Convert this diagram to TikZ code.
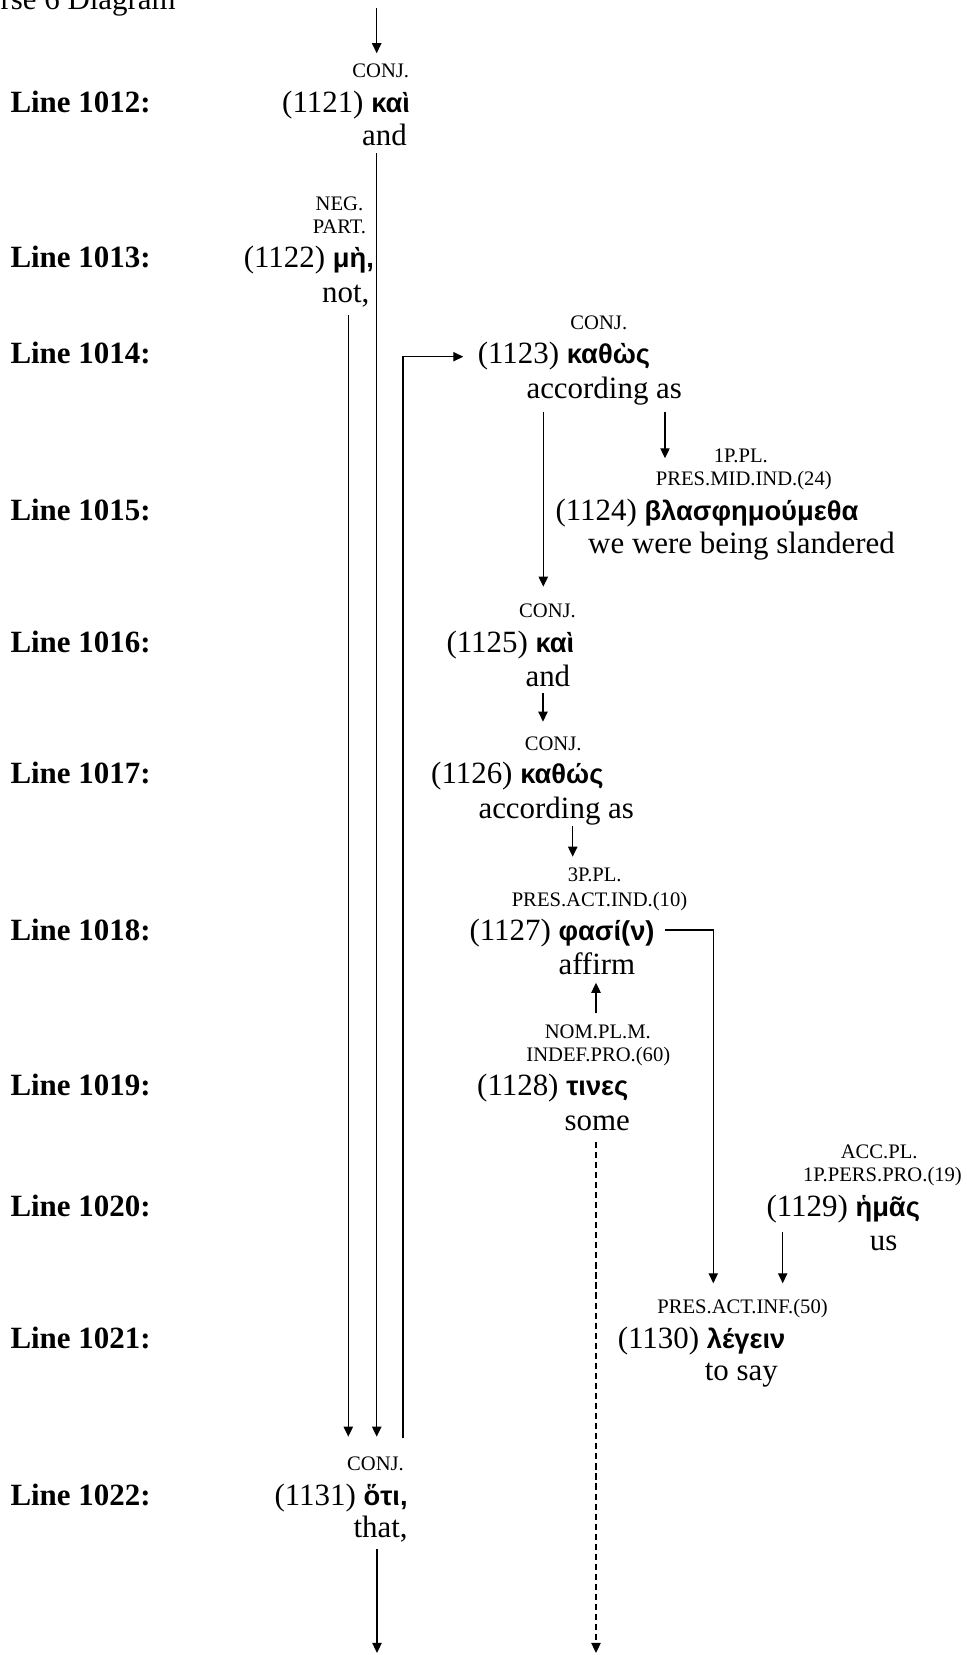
\documentclass[tikz,border=0pt]{standalone}
\usepackage{fontspec}
\setmainfont{Liberation Serif}
\newfontfamily\grkfont{Liberation Sans}
\usepackage{tikz}
\usetikzlibrary{arrows.meta}

\newcommand{\gk}[1]{{\grkfont\bfseries\fontsize{10.6}{12}\selectfont #1}}

\tikzset{
  lbl/.style={anchor=base west, inner sep=0pt, font=\bfseries\fontsize{12}{14}\selectfont},
  wrd/.style={anchor=base west, inner sep=0pt, font=\fontsize{12}{14}\selectfont},
  parse/.style={anchor=base, inner sep=0pt, font=\fontsize{8}{9.6}\selectfont},
  arr/.style={line width=0.55pt, -{Triangle[length=3.9pt,width=3.6pt]}},
  dashline/.style={arr, dash pattern={on 2.4pt off 1.5pt}}
}

\begin{document}
\begin{tikzpicture}[x=0.388pt,y=0.388pt,yscale=-1,xscale=1]
\useasboundingbox (0,0) rectangle (967,1655);
% Text Node
\node[wrd] (title) at (0,10) {rse 6 Diagram};
% Line labels
\node[lbl] (ln1012) at (10,112.5) {Line 1012:};
\node[lbl] (ln1013) at (10,268) {Line 1013:};
\node[lbl] (ln1014) at (10,364) {Line 1014:};
\node[lbl] (ln1015) at (10,520) {Line 1015:};
\node[lbl] (ln1016) at (10,652.7) {Line 1016:};
\node[lbl] (ln1017) at (10,783.3) {Line 1017:};
\node[lbl] (ln1018) at (10,940) {Line 1018:};
\node[lbl] (ln1019) at (10,1095) {Line 1019:};
\node[lbl] (ln1020) at (10,1216.7) {Line 1020:};
\node[lbl] (ln1021) at (10,1348.3) {Line 1021:};
\node[lbl] (ln1022) at (10,1505) {Line 1022:};
% 1121
\node[parse] (pos1121) at (380.8,77.7) {CONJ.};
\node[wrd] (gr1121) at (281.7,112.5) {(1121) \gk{καὶ}};
\node[wrd] (en1121) at (361.7,145.7) {and};
% 1122
\node[parse] (pos1122a) at (339.5,210.7) {NEG.};
\node[parse] (pos1122b) at (339.5,234) {PART.};
\node[wrd] (gr1122) at (243.3,268) {(1122) \gk{μὴ,}};
\node[wrd] (en1122) at (321.7,303) {not,};
% 1123
\node[parse] (pos1123) at (598.8,330) {CONJ.};
\node[wrd] (gr1123) at (477.3,364) {(1123) \gk{καθὼς}};
\node[wrd] (en1123) at (526,398.3) {according as};
% 1124
\node[parse] (pos1124a) at (740.8,462.3) {1P.PL.};
\node[parse] (pos1124b) at (743.8,485.7) {PRES.MID.IND.(24)};
\node[wrd] (gr1124) at (555,520) {(1124) \gk{βλασφημούμεθα}};
\node[wrd] (en1124) at (587.7,553.3) {we were being slandered};
% 1125
\node[parse] (pos1125) at (547.5,617.3) {CONJ.};
\node[wrd] (gr1125) at (446,652.7) {(1125) \gk{καὶ}};
\node[wrd] (en1125) at (525,686.7) {and};
% 1126
\node[parse] (pos1126) at (553.2,750) {CONJ.};
\node[wrd] (gr1126) at (430.7,783.3) {(1126) \gk{καθώς}};
\node[wrd] (en1126) at (478,818.3) {according as};
% 1127
\node[parse] (pos1127a) at (594.7,881.7) {3P.PL.};
\node[parse] (pos1127b) at (599.5,906) {PRES.ACT.IND.(10)};
\node[wrd] (gr1127) at (469,940) {(1127) \gk{φασί(ν)}};
\node[wrd] (en1127) at (558,974) {affirm};
% 1128
\node[parse] (pos1128a) at (597.8,1038.3) {NOM.PL.M.};
\node[parse] (pos1128b) at (598.3,1061.7) {INDEF.PRO.(60)};
\node[wrd] (gr1128) at (476.7,1095) {(1128) \gk{τινες}};
\node[wrd] (en1128) at (564,1130) {some};
% 1129
\node[parse] (pos1129a) at (879.2,1158.3) {ACC.PL.};
\node[parse] (pos1129b) at (882.5,1181.7) {1P.PERS.PRO.(19)};
\node[wrd] (gr1129) at (766,1216.7) {(1129) \gk{ἡμᾶς}};
\node[wrd] (en1129) at (869.3,1250) {us};
% 1130
\node[parse] (pos1130) at (742.5,1313.3) {PRES.ACT.INF.(50)};
\node[wrd] (gr1130) at (617.3,1348.3) {(1130) \gk{λέγειν}};
\node[wrd] (en1130) at (704.3,1380) {to say};
% 1131
\node[parse] (pos1131) at (375.5,1470) {CONJ.};
\node[wrd] (gr1131) at (274,1505) {(1131) \gk{ὅτι,}};
\node[wrd] (en1131) at (353,1537.7) {that,};

% connector ends
\coordinate (inTop) at (376.7,8.3);
\coordinate (tip1121) at (376.7,53.3);
\coordinate (from1121) at (376.7,153.3);
\coordinate (to1131b) at (376.7,1436.7);
\coordinate (from1122) at (348.3,315);
\coordinate (to1131a) at (348.3,1436.7);
\coordinate (from1131) at (403,1438);
\coordinate (bend1131) at (403,356.7);
\coordinate (to1123) at (463.3,356.7);
\coordinate (from1123a) at (543.3,411.7);
\coordinate (to1125) at (543.3,586.7);
\coordinate (from1123b) at (665,411.7);
\coordinate (to1124) at (665,458.3);
\coordinate (from1125) at (543,693);
\coordinate (to1126) at (543,721.7);
\coordinate (from1126) at (572.7,826);
\coordinate (to1127) at (572.7,856.7);
\coordinate (from1128) at (596,1013.3);
\coordinate (to1127b) at (596,982.7);
\coordinate (from1127) at (665,930);
\coordinate (bend1127) at (713.3,930);
\coordinate (to1130a) at (713.3,1283.3);
\coordinate (from1129) at (782.7,1231.7);
\coordinate (to1130b) at (782.7,1283.3);
\coordinate (dash1128) at (596,1141.7);
\coordinate (outDash) at (596,1653);
\coordinate (from1131b) at (377,1549);
\coordinate (outBot) at (377,1653);

%Straight Lines
\draw[arr] (inTop) -- (tip1121);
\draw[arr] (from1121) -- (to1131b);
\draw[arr] (from1122) -- (to1131a);
\draw[arr] (from1131) -- (bend1131) -- (to1123);
\draw[arr] (from1123a) -- (to1125);
\draw[arr] (from1123b) -- (to1124);
\draw[arr] (from1125) -- (to1126);
\draw[arr] (from1126) -- (to1127);
\draw[arr] (from1128) -- (to1127b);
\draw[arr] (from1127) -- (bend1127) -- (to1130a);
\draw[arr] (from1129) -- (to1130b);
\draw[dashline] (dash1128) -- (outDash);
\draw[arr] (from1131b) -- (outBot);
\end{tikzpicture}
\end{document}
